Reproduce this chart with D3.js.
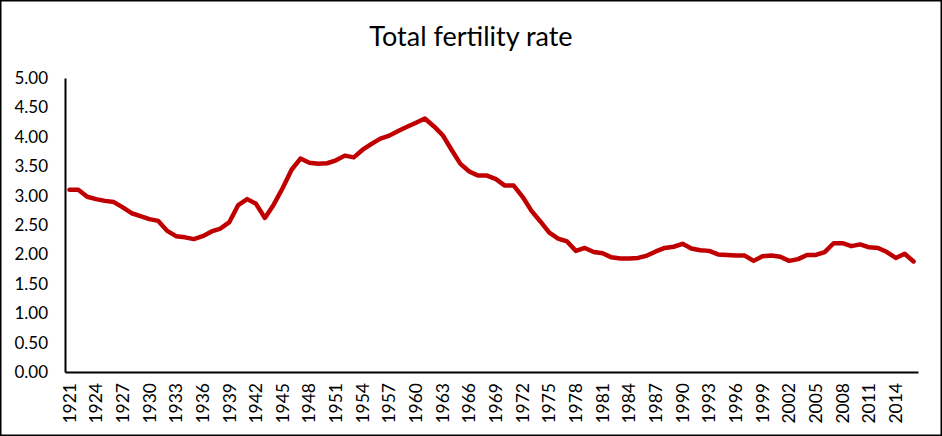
<!DOCTYPE html>
<html><head><meta charset="utf-8">
<script src="https://cdn.jsdelivr.net/npm/d3@7"></script>
<style>html,body{margin:0;padding:0;background:#fff;}svg{display:block;}</style>
</head><body>
<script>
const title = "Total fertility rate";
const years = d3.range(1921, 2017);
const tfr = [
 3.10,3.10,2.98,2.94,2.91,2.89,2.80,2.70,2.65,2.60,
 2.57,2.40,2.31,2.29,2.26,2.31,2.39,2.44,2.55,2.84,
 2.94,2.86,2.62,2.85,3.13,3.44,3.63,3.56,3.54,3.55,
 3.60,3.68,3.65,3.78,3.88,3.97,4.02,4.10,4.17,4.24,
 4.31,4.18,4.03,3.78,3.54,3.41,3.34,3.34,3.28,3.17,
 3.17,2.98,2.74,2.56,2.37,2.27,2.22,2.06,2.11,2.04,
 2.02,1.95,1.93,1.93,1.94,1.98,2.05,2.11,2.13,2.18,
 2.10,2.07,2.06,2.00,1.99,1.98,1.98,1.89,1.97,1.98,
 1.96,1.89,1.92,1.99,1.99,2.04,2.19,2.19,2.14,2.17,
 2.12,2.11,2.04,1.94,2.01,1.88
];
const yTicks = [0,0.5,1,1.5,2,2.5,3,3.5,4,4.5,5];
const xLabelYears = years.filter((yr,i)=> i%3===0);

(function(){
const W=942,H=436;
const svg=d3.select("body").append("svg").attr("width",W).attr("height",H);
svg.append("rect").attr("x",0.75).attr("y",0.75).attr("width",W-1.5).attr("height",H-1.5)
  .attr("fill","#fff").attr("stroke","#000").attr("stroke-width",1.5);

const pL=65,pR=918,pT=78,pB=372;
const x=d3.scaleBand().domain(years).range([pL,pR]);
const y=d3.scaleLinear().domain([0,5]).range([pB,pT]);
const font="Lato, 'Open Sans', sans-serif";

svg.append("text").attr("x",471).attr("y",46).attr("text-anchor","middle")
  .attr("font-family",font).attr("font-size",27).attr("fill","#000").text(title);

const ya=svg.append("g").attr("transform",`translate(${pL},0)`)
  .call(d3.axisLeft(y).tickValues(yTicks).tickFormat(d3.format(".2f")).tickSize(0).tickPadding(17));
ya.select(".domain").attr("stroke","#000").attr("stroke-width",2);
ya.selectAll("text").attr("font-family",font).attr("font-size",17).attr("fill","#000");

const xa=svg.append("g").attr("transform",`translate(0,${pB})`)
  .call(d3.axisBottom(x).tickValues(xLabelYears).tickSize(0).tickPadding(0));
xa.select(".domain").attr("stroke","#000").attr("stroke-width",2);
xa.selectAll("text").attr("font-family",font).attr("font-size",17.5).attr("fill","#000")
  .attr("transform","rotate(-90)").attr("text-anchor","end").attr("dy","0.35em")
  .attr("x",-11).attr("y",0);

const line=d3.line().x((d,i)=>x(years[i])+x.bandwidth()/2).y(d=>y(d));
svg.append("path").datum(tfr).attr("d",line).attr("fill","none")
  .attr("stroke","#C00000").attr("stroke-width",4.5).attr("stroke-linejoin","round").attr("stroke-linecap","round");
})();
</script>
</body></html>
